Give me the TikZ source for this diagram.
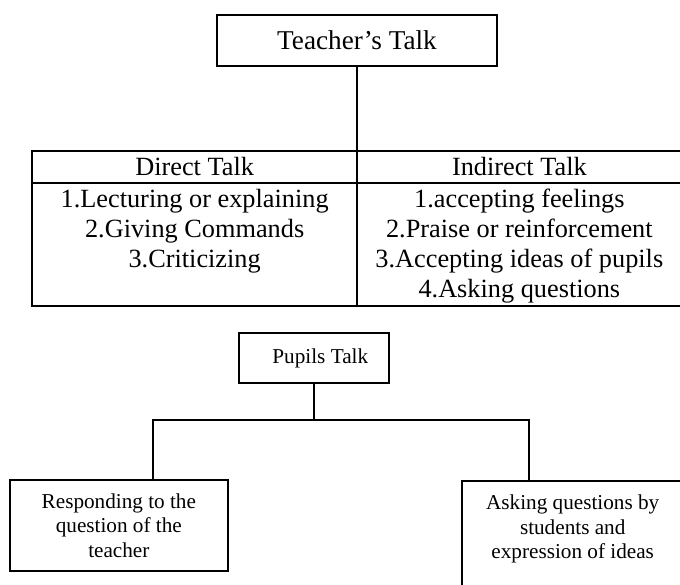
\documentclass[tikz,border=0pt]{standalone}
\usepackage{fontspec}
\setmainfont{Liberation Serif}
\begin{document}
\begin{tikzpicture}[x=1pt,y=-1pt,
  box/.style={draw, line width=1.8pt, inner sep=0pt},
  big/.style={font=\fontsize{26.3}{30}\selectfont},
  small/.style={font=\fontsize{21.2}{24.5}\selectfont},
  link/.style={line width=1.8pt}]
\useasboundingbox (0,0) rectangle (680,584);
\clip (0,0) rectangle (680,584);
% Teacher's talk
\node[box, font=\fontsize{27.2}{30}\selectfont, minimum width=279.3pt, minimum height=50.7pt] (teacher) at (357,40.3) {Teacher’s Talk};
% table
\node[box, big, minimum width=324.7pt, minimum height=31.7pt] (dhead) at (194.65,166.85) {Direct Talk};
\node[box, big, minimum width=324.7pt, minimum height=31.7pt] (ihead) at (519.35,166.85) {Indirect Talk};
\node[box, minimum width=324.7pt, minimum height=123.3pt] (dbody) at (194.65,244.35) {};
\node[box, minimum width=324.7pt, minimum height=123.3pt] (ibody) at (519.35,244.35) {};
\node[big, align=center, inner sep=0pt, anchor=north] (dlist) at (194.65,189) {1.Lecturing or explaining\\2.Giving Commands\\3.Criticizing};
\node[big, align=center, inner sep=0pt, anchor=north] (ilist) at (519.35,189) {1.accepting feelings\\2.Praise or reinforcement\\3.Accepting ideas of pupils\\4.Asking questions};
\draw[link] (teacher.south) -- (teacher.south |- dhead.north);
% Pupils talk
\node[box, small, minimum width=150pt, minimum height=49.4pt] (pupils) at (314.3,358) {\hspace*{12pt}Pupils Talk};
\node[box, small, align=center, minimum width=217.7pt, minimum height=91pt] (resp) at (118.85,525.5) {Responding to the\\question of the\\teacher};
\node[box, minimum width=224pt, minimum height=120pt, anchor=north west] (ask) at (460.7,480) {};
\node[small, align=center, inner sep=0pt] (asktext) at (572.7,529) {Asking questions by\\students and\\expression of ideas};
\coordinate (forkL) at (153.3,420);
\coordinate (forkR) at (529.3,420);
\draw[link] (pupils.south) -- (pupils.south |- forkL);
\draw[link] (forkL |- resp.north) -- (forkL) -- (forkR) -- (forkR |- ask.north);
\end{tikzpicture}
\end{document}
